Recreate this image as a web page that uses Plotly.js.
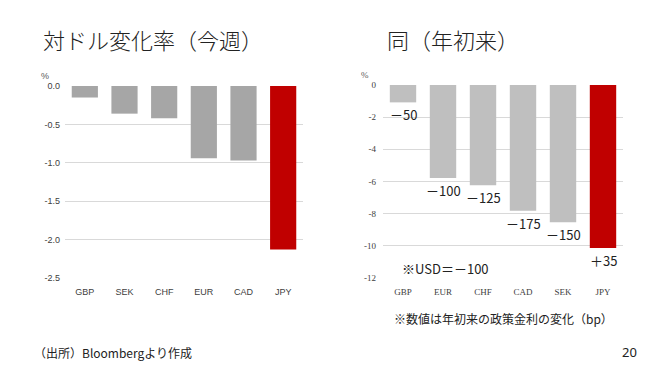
<!DOCTYPE html>
<html><head><meta charset="utf-8">
<script src="https://cdn.plot.ly/plotly-3.0.1.min.js"></script>
<style>html,body{margin:0;padding:0;background:#fff;}#chart{width:660px;height:371px;}</style>
</head><body><div id="chart"></div>
<script>
// Left: weekly change vs USD (%)
const weekCats = ["GBP", "SEK", "CHF", "EUR", "CAD", "JPY"];
const weekVals = [-0.15, -0.36, -0.42, -0.94, -0.97, -2.13];
const weekColors = ["#a6a6a6", "#a6a6a6", "#a6a6a6", "#a6a6a6", "#a6a6a6", "#c00000"];
const weekTickVals = [0, -0.5, -1, -1.5, -2, -2.5];
const weekTickText = ["0.0", "-0.5", "-1.0", "-1.5", "-2.0", "-2.5"];

// Right: year-to-date change (%), with policy-rate change labels (bp)
const ytdCats = ["GBP", "EUR", "CHF", "CAD", "SEK", "JPY"];
const ytdVals = [-1.08, -5.78, -6.24, -7.82, -8.54, -10.14];
const ytdRateLabels = ["－50", "－100", "－125", "－175", "－150", "＋35"];
const ytdColors = ["#bfbfbf", "#bfbfbf", "#bfbfbf", "#bfbfbf", "#bfbfbf", "#c00000"];
const ytdTickVals = [0, -2, -4, -6, -8, -10, -12];
const ytdTickText = ["0", "-2", "-4", "-6", "-8", "-10", "-12"];

const CJK = "Noto Sans CJK JP, sans-serif";

const traces = [
  {type: "bar", x: weekCats, y: weekVals, marker: {color: weekColors}, xaxis: "x", yaxis: "y", hoverinfo: "none"},
  {type: "bar", x: ytdCats, y: ytdVals, marker: {color: ytdColors}, xaxis: "x2", yaxis: "y2", hoverinfo: "none"}
];

const annotations = [];
ytdCats.forEach((c, i) => {
  annotations.push({xref: "x2", yref: "y2", x: c, y: ytdVals[i], text: ytdRateLabels[i],
    showarrow: false, yanchor: "top", yshift: -1, font: {family: CJK, size: 13, color: "#222"}});
});
annotations.push(
  {xref: "paper", yref: "paper", x: 41/660, y: 1 - 39/371, xanchor: "left", yanchor: "middle", showarrow: false,
   text: "対ドル変化率（今週）", font: {family: CJK, size: 22, color: "#222", weight: 300}},
  {xref: "paper", yref: "paper", x: 385/660, y: 1 - 39/371, xanchor: "left", yanchor: "middle", showarrow: false,
   text: "同（年初来）", font: {family: CJK, size: 22, color: "#222", weight: 300}},
  {xref: "paper", yref: "paper", x: 45/660, y: 1 - 76/371, xanchor: "center", yanchor: "middle", showarrow: false,
   text: "%", font: {family: "Liberation Sans", size: 9, color: "#595959"}},
  {xref: "paper", yref: "paper", x: 365/660, y: 1 - 75/371, xanchor: "center", yanchor: "middle", showarrow: false,
   text: "%", font: {family: "Liberation Serif", size: 9, color: "#595959"}},
  {xref: "paper", yref: "paper", x: 400/660, y: 1 - 268/371, xanchor: "left", yanchor: "middle", showarrow: false,
   text: "※USD＝－100", font: {family: CJK, size: 13, color: "#222"}},
  {xref: "paper", yref: "paper", x: 392/660, y: 1 - 318/371, xanchor: "left", yanchor: "middle", showarrow: false,
   text: "※数値は年初来の政策金利の変化（bp）", font: {family: CJK, size: 12, color: "#222"}},
  {xref: "paper", yref: "paper", x: 32/660, y: 1 - 352/371, xanchor: "left", yanchor: "middle", showarrow: false,
   text: "（出所）Bloombergより作成", font: {family: CJK, size: 12, color: "#222"}},
  {xref: "paper", yref: "paper", x: 639/660, y: 1 - 352/371, xanchor: "right", yanchor: "middle", showarrow: false,
   text: "20", font: {family: "Noto Sans", size: 13, color: "#222"}}
);

const layout = {
  width: 660, height: 371,
  margin: {l: 0, r: 0, t: 0, b: 0},
  paper_bgcolor: "#fff", plot_bgcolor: "#fff",
  showlegend: false, bargap: 0.34,
  xaxis: {domain: [65/660, 303/660], anchor: "y", showgrid: false, showline: false, zeroline: false,
    ticks: "", tickfont: {family: "Liberation Sans", size: 9, color: "#404040"}, ticklabelstandoff: 7},
  yaxis: {domain: [1 - 278/371, 1 - 86/371], anchor: "x", range: [-2.5, 0], tickvals: weekTickVals, ticktext: weekTickText,
    showgrid: true, gridcolor: "#d9d9d9", gridwidth: 1, zeroline: false, showline: false, ticks: "",
    tickfont: {family: "Liberation Sans", size: 9, color: "#404040"}, ticklabelstandoff: 4},
  xaxis2: {domain: [383/660, 623/660], anchor: "y2", showgrid: false, showline: false, zeroline: false,
    ticks: "", tickfont: {family: "Liberation Serif", size: 9, color: "#404040"}, ticklabelstandoff: 7},
  yaxis2: {domain: [1 - 278/371, 1 - 85/371], anchor: "x2", range: [-12, 0], tickvals: ytdTickVals, ticktext: ytdTickText,
    showgrid: true, gridcolor: "#d9d9d9", gridwidth: 1, zeroline: false, showline: false, ticks: "",
    tickfont: {family: "Liberation Serif", size: 9, color: "#404040"}, ticklabelstandoff: 6},
  annotations: annotations
};

Plotly.newPlot("chart", traces, layout, {staticPlot: true, displayModeBar: false});
</script></body></html>
